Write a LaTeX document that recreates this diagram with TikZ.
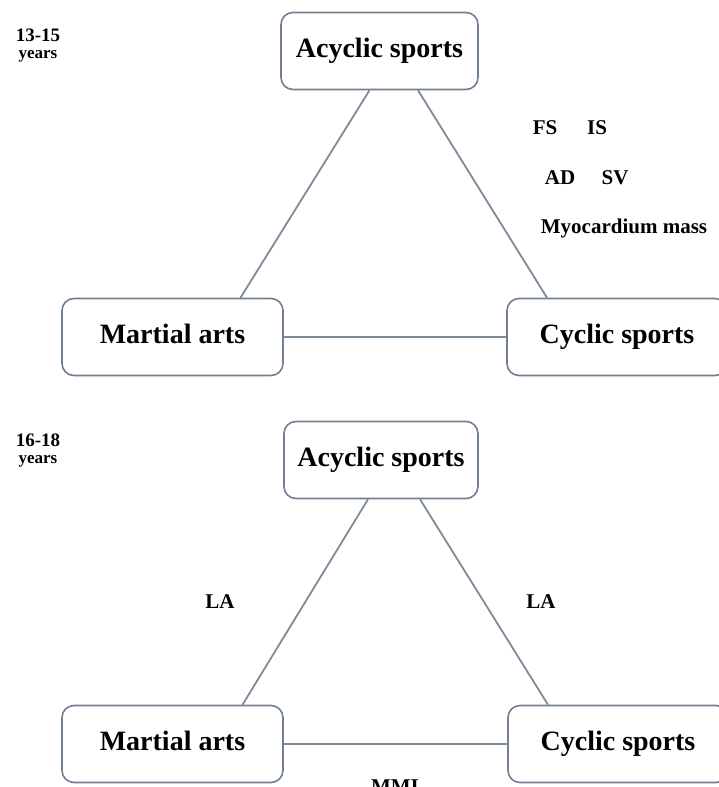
\documentclass[tikz,border=0pt]{standalone}
\usepackage{fontspec}
\setmainfont{Liberation Serif}
\definecolor{boxline}{RGB}{112,128,144}
\definecolor{linkline}{RGB}{125,140,152}
\tikzset{
    sport/.style={draw=boxline, line width=1.6pt, rounded corners=12pt, fill=white,
        minimum height=77pt, text height=19pt, text depth=6pt,
        font=\fontsize{28}{30}\selectfont\bfseries, inner sep=0pt},
    link/.style={draw=linkline, line width=1.8pt},
    tag/.style={font=\fontsize{21}{23}\selectfont\bfseries, inner sep=0pt},
    age/.style={font=\fontsize{19}{19}\selectfont\bfseries, inner sep=0pt},
    yrs/.style={font=\fontsize{17}{17}\selectfont\bfseries, inner sep=0pt}
}
\begin{document}
\begin{tikzpicture}[x=1pt,y=-1pt]
    \useasboundingbox (0,0) rectangle (719,787);
    \clip (0,0) rectangle (719,787);
    % 13-15 years
    \node[age] (age1) at (38,35) {13-15};
    \node[yrs] (yrs1) at (38,56) {years};
    \node[sport, minimum width=197pt] (acyc1) at (379.5,51) {Acyclic sports};
    \node[sport, minimum width=221pt] (mart1) at (172.5,337) {Martial arts};
    \node[sport, minimum width=220pt] (cycl1) at (617,337) {Cyclic sports};
    \draw[link] ([xshift=-10pt]acyc1.south) -- ([xshift=68pt]mart1.north);
    \draw[link] ([xshift=38.5pt]acyc1.south) -- ([xshift=-70pt]cycl1.north);
    \draw[link] (mart1) -- (cycl1);
    \node[tag] (fs) at (545,128) {FS};
    \node[tag] (is) at (597,128) {IS};
    \node[tag] (ad) at (560,178) {AD};
    \node[tag] (sv) at (615,178) {SV};
    \node[tag] (myo) at (624,228) {Myocardium mass};
    % 16-18 years
    \node[age] (age2) at (38,440) {16-18};
    \node[yrs] (yrs2) at (38,461) {years};
    \node[sport, minimum width=194pt] (acyc2) at (381,460) {Acyclic sports};
    \node[sport, minimum width=221pt] (mart2) at (172.5,744) {Martial arts};
    \node[sport, minimum width=220pt] (cycl2) at (618,744) {Cyclic sports};
    \draw[link] ([xshift=-13pt]acyc2.south) -- ([xshift=70pt]mart2.north);
    \draw[link] ([xshift=39pt]acyc2.south) -- ([xshift=-70pt]cycl2.north);
    \draw[link] (mart2) -- (cycl2);
    \node[tag] (la1) at (220,602) {LA};
    \node[tag] (la2) at (541,602) {LA};
    \node[tag] (mmi) at (395,787) {MMI};
\end{tikzpicture}
\end{document}
